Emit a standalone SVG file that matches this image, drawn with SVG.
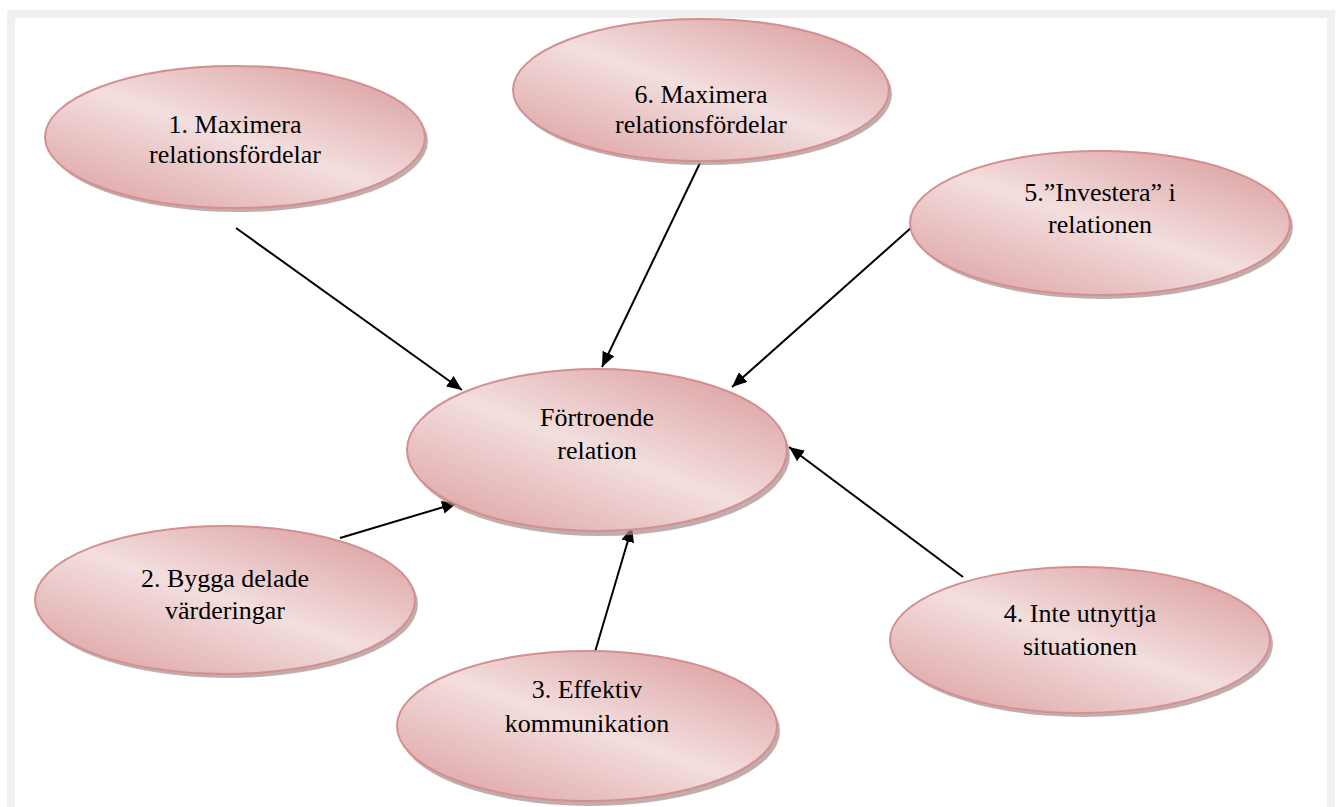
<svg xmlns="http://www.w3.org/2000/svg" width="1341" height="807" viewBox="0 0 1341 807">
<defs>
<linearGradient id="g" x1="0.1" y1="0.95" x2="0.9" y2="0.05">
<stop offset="0" stop-color="#dfa6a7"/>
<stop offset="0.5" stop-color="#f3dede"/>
<stop offset="1" stop-color="#dca1a2"/>
</linearGradient>
<marker id="ah" viewBox="0 0 15 13" refX="15" refY="6.5" markerWidth="15" markerHeight="13" markerUnits="userSpaceOnUse" orient="auto">
<path d="M0,0 L15,6.5 L0,13 z" fill="#000"/>
</marker>
</defs>
<style>
.sh{fill:#a88a8a;opacity:0.7}
.el{fill:url(#g);stroke:#d48f90;stroke-width:2}
.t{font-family:"Liberation Serif","Times New Roman",serif;font-size:26px;fill:#000;text-anchor:middle}
.c{stroke:#000;stroke-width:2;fill:none;marker-end:url(#ah)}
</style>
<rect x="0" y="0" width="1341" height="807" fill="#fff"/>
<path d="M7,10 H1335 V807 H1327 V18 H15 V807 H7 Z" fill="#f0f0f0"/>
<g id="connectors">
<line class="c" x1="236" y1="228" x2="462" y2="390"/>
<line class="c" x1="700" y1="163" x2="602" y2="367"/>
<line class="c" x1="912" y1="227" x2="732" y2="387"/>
<line class="c" x1="340" y1="538" x2="457" y2="503"/>
<line class="c" x1="592" y1="662" x2="632" y2="527"/>
<line class="c" x1="963" y1="577" x2="789" y2="447"/>
</g>
<g id="n1">
<ellipse class="sh" cx="238" cy="141" rx="190" ry="71"/>
<ellipse class="el" cx="235" cy="137" rx="190" ry="71"/>
<text class="t" x="235" y="133">1. Maximera</text>
<text class="t" x="235" y="163">relationsfördelar</text>
</g>
<g id="n6">
<ellipse class="sh" cx="704" cy="94" rx="188" ry="71"/>
<ellipse class="el" cx="701" cy="90" rx="188" ry="71"/>
<text class="t" x="701" y="103">6. Maximera</text>
<text class="t" x="701" y="133">relationsfördelar</text>
</g>
<g id="n5">
<ellipse class="sh" cx="1103" cy="227" rx="190" ry="72"/>
<ellipse class="el" cx="1100" cy="223" rx="190" ry="72"/>
<text class="t" x="1100" y="201">5.”Investera” i</text>
<text class="t" x="1100" y="233">relationen</text>
</g>
<g id="center">
<ellipse class="sh" cx="600" cy="455" rx="190" ry="81"/>
<ellipse class="el" cx="597" cy="450" rx="190" ry="81"/>
<text class="t" x="597" y="426">Förtroende</text>
<text class="t" x="597" y="459">relation</text>
</g>
<g id="n2">
<ellipse class="sh" cx="228" cy="604" rx="190" ry="74"/>
<ellipse class="el" cx="225" cy="600" rx="190" ry="74"/>
<text class="t" x="225" y="587">2. Bygga delade</text>
<text class="t" x="225" y="619">värderingar</text>
</g>
<g id="n3">
<ellipse class="sh" cx="590" cy="731" rx="190" ry="75"/>
<ellipse class="el" cx="587" cy="726" rx="190" ry="75"/>
<text class="t" x="587" y="698">3. Effektiv</text>
<text class="t" x="587" y="732">kommunikation</text>
</g>
<g id="n4">
<ellipse class="sh" cx="1083" cy="644" rx="190" ry="73"/>
<ellipse class="el" cx="1080" cy="640" rx="190" ry="73"/>
<text class="t" x="1080" y="622">4. Inte utnyttja</text>
<text class="t" x="1080" y="655">situationen</text>
</g>
</svg>
